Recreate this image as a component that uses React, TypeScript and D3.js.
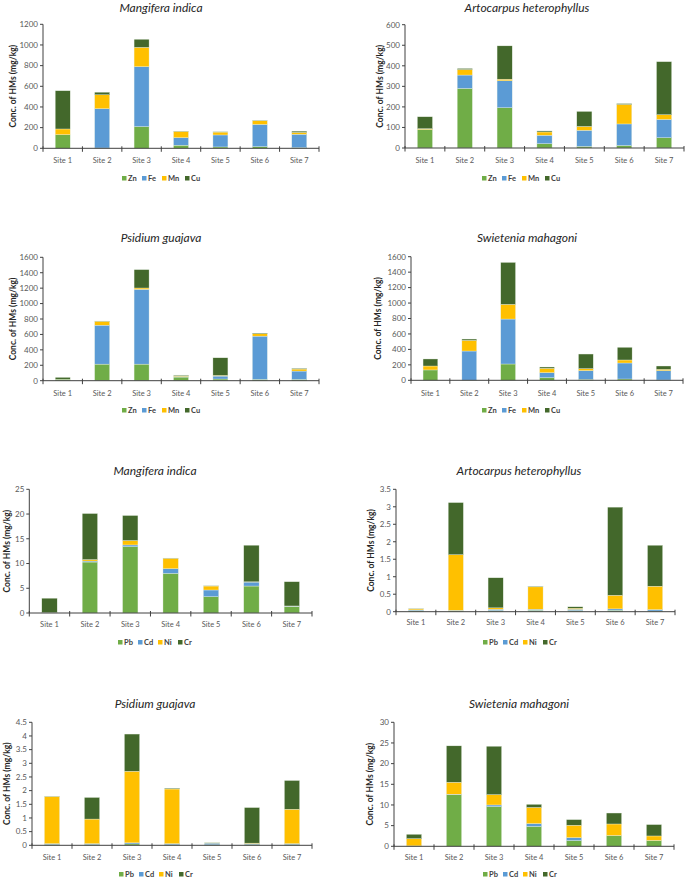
import React from "react";
import * as d3 from "d3";

const sites = ["Site 1", "Site 2", "Site 3", "Site 4", "Site 5", "Site 6", "Site 7"];
const majorMetals = ["Zn", "Fe", "Mn", "Cu"];
const traceMetals = ["Pb", "Cd", "Ni", "Cr"];
const metalColors = ["#70AD47", "#5B9BD5", "#FFC000", "#43682B"];

// Mangifera indica (Zn, Fe, Mn, Cu)
const mangiferaZn = [132, 3, 210, 30, 13, 16, 6];
const mangiferaFe = [0, 380, 580, 73, 116, 215, 130];
const mangiferaMn = [55, 135, 187, 60, 28, 35, 18];
const mangiferaCu = [370, 25, 78, 3, 3, 3, 12];

// Artocarpus heterophyllus (Zn, Fe, Mn, Cu)
const artocarpusZn = [90, 290, 196, 21, 8, 12, 50];
const artocarpusFe = [0, 65, 131, 41, 78, 105, 89];
const artocarpusMn = [4, 27, 8, 16, 19, 95, 23];
const artocarpusCu = [58, 5, 162, 5, 73, 4, 258];

// Psidium guajava (Zn, Fe, Mn, Cu)
const psidiumZn = [20, 215, 215, 47, 22, 17, 17];
const psidiumFe = [0, 505, 970, 8, 38, 561, 108];
const psidiumMn = [0, 51, 17, 8, 9, 30, 26];
const psidiumCu = [23, 3, 238, 10, 228, 8, 8];

// Swietenia mahagoni (Zn, Fe, Mn, Cu)
const swieteniaZn = [134, 2, 211, 34, 13, 17, 4];
const swieteniaFe = [0, 377, 582, 65, 112, 207, 121];
const swieteniaMn = [51, 138, 190, 56, 26, 39, 17];
const swieteniaCu = [91, 17, 543, 17, 189, 164, 43];

// Mangifera indica (Pb, Cd, Ni, Cr)
const mangiferaPb = [0.05, 10.3, 13.4, 8.0, 3.3, 5.45, 1.3];
const mangiferaCd = [0.02, 0.2, 0.35, 0.95, 1.35, 0.8, 0.1];
const mangiferaNi = [0.02, 0.3, 0.9, 2.1, 0.8, 0.05, 0.02];
const mangiferaCr = [2.9, 9.3, 5.05, 0.05, 0.05, 7.4, 4.9];

// Artocarpus heterophyllus (Pb, Cd, Ni, Cr)
const artocarpusPb = [0.03, 0.02, 0.03, 0.04, 0.03, 0.04, 0.02];
const artocarpusCd = [0.02, 0.02, 0.04, 0.03, 0.04, 0.04, 0.04];
const artocarpusNi = [0.03, 1.59, 0.04, 0.64, 0.03, 0.39, 0.67];
const artocarpusCr = [0.01, 1.49, 0.86, 0.02, 0.04, 2.52, 1.17];

// Psidium guajava (Pb, Cd, Ni, Cr)
const psidiumPb = [0.03, 0.03, 0.05, 0.02, 0.02, 0.03, 0.03];
const psidiumCd = [0.03, 0.03, 0.04, 0.04, 0.06, 0.03, 0.03];
const psidiumNi = [1.72, 0.9, 2.62, 2.0, 0.01, 0.02, 1.26];
const psidiumCr = [0.01, 0.79, 1.36, 0.03, 0.01, 1.3, 1.05];

// Swietenia mahagoni (Pb, Cd, Ni, Cr)
const swieteniaPb = [0.05, 12.5, 9.6, 4.8, 1.4, 2.55, 1.35];
const swieteniaCd = [0.05, 0.1, 0.4, 0.7, 0.7, 0.05, 0.05];
const swieteniaNi = [1.75, 2.9, 2.5, 3.9, 3.0, 2.8, 1.1];
const swieteniaCr = [1.05, 8.8, 11.7, 0.75, 1.35, 2.65, 2.75];

const axisMaxes = [1200, 600, 1600, 1600, 25, 3.5, 4.5, 30];
const axisSteps = [200, 100, 200, 200, 5, 0.5, 0.5, 5];
const titles = [
  "Mangifera indica",
  "Artocarpus heterophyllus",
  "Psidium guajava",
  "Swietenia mahagoni",
  "Mangifera indica",
  "Artocarpus heterophyllus",
  "Psidium guajava",
  "Swietenia mahagoni",
];

const seriesSets = [
  [mangiferaZn, mangiferaFe, mangiferaMn, mangiferaCu],
  [artocarpusZn, artocarpusFe, artocarpusMn, artocarpusCu],
  [psidiumZn, psidiumFe, psidiumMn, psidiumCu],
  [swieteniaZn, swieteniaFe, swieteniaMn, swieteniaCu],
  [mangiferaPb, mangiferaCd, mangiferaNi, mangiferaCr],
  [artocarpusPb, artocarpusCd, artocarpusNi, artocarpusCr],
  [psidiumPb, psidiumCd, psidiumNi, psidiumCr],
  [swieteniaPb, swieteniaCd, swieteniaNi, swieteniaCr],
];

// layout per panel
const layouts = [
  { ax: 43, x1: 319, yTop: 24.3, y0: 148.3, titleX: 161, titleY: 12, siteY: 163, legY: 178, legX: 124, ylabX: 13 },
  { ax: 405, x1: 684, yTop: 24.7, y0: 148, titleX: 527, titleY: 12, siteY: 163, legY: 178, legX: 484, ylabX: 380 },
  { ax: 43, x1: 319, yTop: 257.3, y0: 380.7, titleX: 161, titleY: 242, siteY: 396, legY: 410, legX: 124, ylabX: 13 },
  { ax: 411, x1: 683, yTop: 256.7, y0: 380.3, titleX: 527, titleY: 242, siteY: 396, legY: 410, legX: 484, ylabX: 378 },
  { ax: 29.3, x1: 312, yTop: 489.3, y0: 613, titleX: 155, titleY: 475, siteY: 627, legY: 642, legX: 120, ylabX: 7 },
  { ax: 396, x1: 675, yTop: 489.3, y0: 611.7, titleX: 519, titleY: 475, siteY: 625, legY: 642, legX: 485, ylabX: 371 },
  { ax: 32, x1: 312, yTop: 722.3, y0: 845.3, titleX: 155, titleY: 708, siteY: 860, legY: 874, legX: 121, ylabX: 7 },
  { ax: 394, x1: 674, yTop: 722.3, y0: 846.3, titleX: 519, titleY: 708, siteY: 860, legY: 874, legX: 485, ylabX: 370 },
];

const FONT = "Lato, 'Open Sans', sans-serif";
const AXIS = "#404040";
const TEXT = "#595959";

function Panel({ idx }: { idx: number }) {
  const L = layouts[idx];
  const keys = idx < 4 ? majorMetals : traceMetals;
  const series = seriesSets[idx];
  const rows = sites.map((s, i) => {
    const r: any = { site: s };
    keys.forEach((k, j) => (r[k] = series[j][i]));
    return r;
  });
  const stacked = d3.stack<any>().keys(keys)(rows);
  const xb = d3.scaleBand<string>().domain(sites).range([L.ax, L.x1]);
  const x = d3
    .scaleBand<string>()
    .domain(sites)
    .range([L.ax, L.x1])
    .paddingInner(0.62)
    .paddingOuter(0.31);
  const y = d3.scaleLinear().domain([0, axisMaxes[idx]]).range([L.y0, L.yTop]);
  const ticks = d3.range(0, axisMaxes[idx] + axisSteps[idx] / 2, axisSteps[idx]);
  const boundaries = sites.map((s) => xb(s) as number).concat([L.x1]);

  let lx = L.legX;
  const legItems = keys.map((k, i) => {
    const w = 10 + k.split("").reduce((a, c) => a + (c === "M" ? 8 : 5), 0);
    const item = { k, x: lx, color: metalColors[i] };
    lx += w;
    return item;
  });

  return (
    <g>
      <text
        x={L.titleX}
        y={L.titleY}
        textAnchor="middle"
        fontStyle="italic"
        fontSize={12}
        fill="#262626"
        fontFamily={FONT}
      >
        {titles[idx]}
      </text>
      {stacked.map((layer, li) => (
        <g key={layer.key} fill={metalColors[li]}>
          {layer.map((d, i) => {
            const h = y(d[0]) - y(d[1]);
            if (h <= 0) return null;
            return (
              <rect
                key={i}
                x={x(sites[i])}
                y={y(d[1])}
                width={x.bandwidth()}
                height={h}
                stroke="#e9f1e4"
                strokeWidth={0.35}
              />
            );
          })}
        </g>
      ))}
      <line x1={L.ax} x2={L.ax} y1={L.yTop} y2={L.y0} stroke={AXIS} strokeWidth={1} />
      <line x1={L.ax} x2={L.x1} y1={L.y0} y2={L.y0} stroke={AXIS} strokeWidth={1} />
      {ticks.map((t) => (
        <g key={t}>
          <line x1={L.ax - 3} x2={L.ax} y1={y(t)} y2={y(t)} stroke={AXIS} strokeWidth={1} />
          <text
            x={L.ax - 5}
            y={y(t) + 2.8}
            textAnchor="end"
            fontSize={8}
            fill={TEXT}
            fontFamily={FONT}
          >
            {String(+t.toFixed(2))}
          </text>
        </g>
      ))}
      {boundaries.map((b, i) => (
        <line key={i} x1={b} x2={b} y1={L.y0 - 2} y2={L.y0 + 3.5} stroke={AXIS} strokeWidth={1} />
      ))}
      {sites.map((s) => (
        <text
          key={s}
          x={(xb(s) as number) + xb.bandwidth() / 2}
          y={L.siteY}
          textAnchor="middle"
          fontSize={7.5}
          fill={TEXT}
          fontFamily={FONT}
        >
          {s}
        </text>
      ))}
      <text
        transform={`translate(${L.ylabX},${(L.yTop + L.y0) / 2}) rotate(-90)`}
        textAnchor="middle"
        dominantBaseline="central"
        fontSize={8.5}
        fontWeight="bold"
        fill="#262626"
        fontFamily={FONT}
      >
        Conc. of HMs (mg/kg)
      </text>
      {legItems.map((it) => (
        <g key={it.k}>
          <rect x={it.x - 2} y={L.legY - 2} width={4.5} height={4.5} fill={it.color} />
          <text
            x={it.x + 4}
            y={L.legY + 2.6}
            fontSize={7.5}
            fontWeight="bold"
            fill="#404040"
            fontFamily={FONT}
          >
            {it.k}
          </text>
        </g>
      ))}
    </g>
  );
}

export default function App() {
  return (
    <svg
      width={685}
      height={879}
      viewBox="0 0 685 879"
      style={{ position: "absolute", left: 0, top: 0, background: "#ffffff" }}
    >
      <rect x={0} y={0} width={685} height={879} fill="#ffffff" />
      {layouts.map((_, i) => (
        <Panel key={i} idx={i} />
      ))}
    </svg>
  );
}
